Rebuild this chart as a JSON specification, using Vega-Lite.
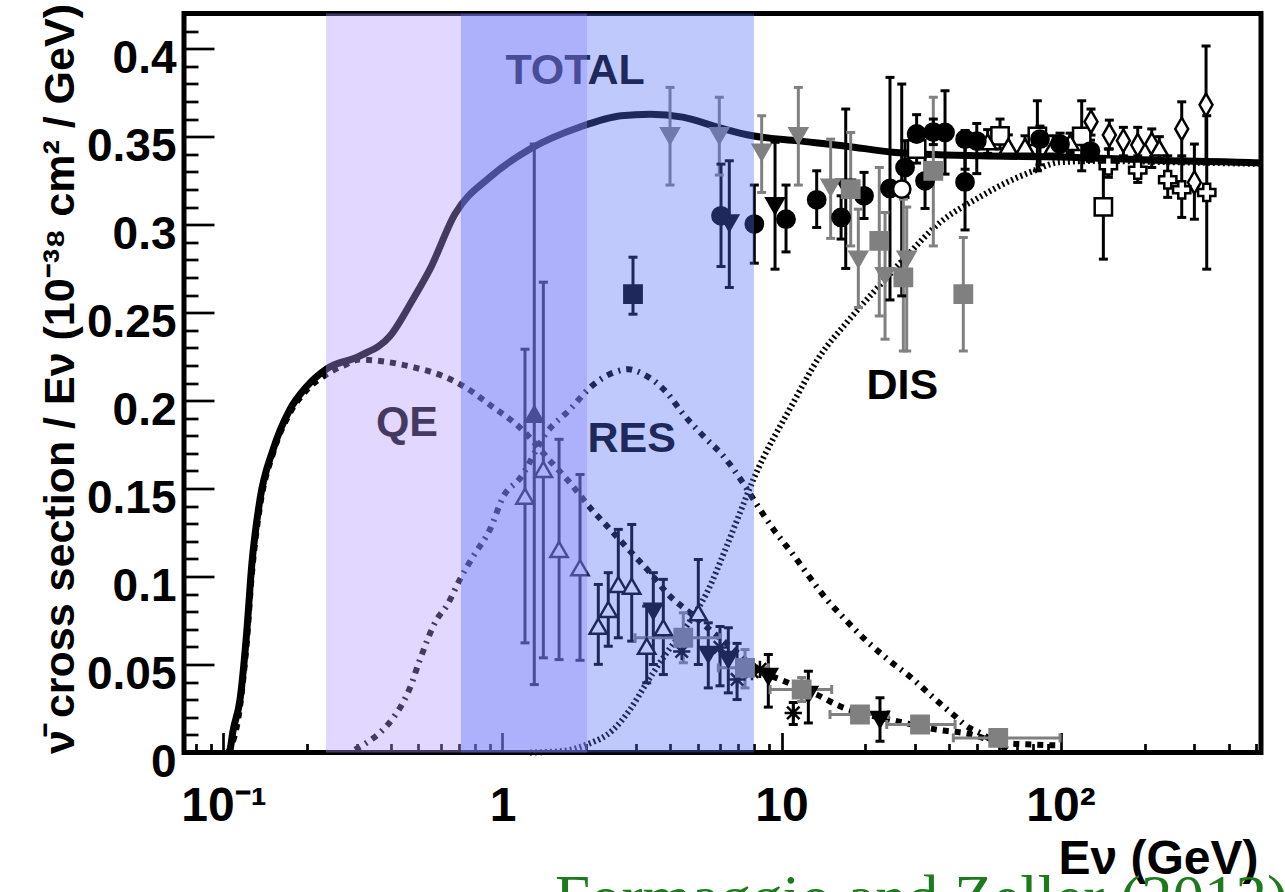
{
  "$schema": "https://vega.github.io/schema/vega-lite/v6.json",
  "width": 1077,
  "height": 739,
  "autosize": {"type": "none"},
  "padding": {"left": 184, "top": 13.5, "right": 24, "bottom": 139.5},
  "background": "white",
  "config": {"view": {"stroke": "black", "strokeWidth": 5}},
  "datasets": {
    "curves": [
      {"c":"TOTAL","E":0.1038,"s":0},{"c":"TOTAL","E":0.1055,"s":0.0016},{"c":"TOTAL","E":0.1081,"s":0.012},{"c":"TOTAL","E":0.1146,"s":0.03},{"c":"TOTAL","E":0.1211,"s":0.068},{"c":"TOTAL","E":0.1262,"s":0.106},{"c":"TOTAL","E":0.1352,"s":0.144},{"c":"TOTAL","E":0.1505,"s":0.172},{"c":"TOTAL","E":0.1731,"s":0.195},{"c":"TOTAL","E":0.1987,"s":0.208},{"c":"TOTAL","E":0.2344,"s":0.218},{"c":"TOTAL","E":0.3084,"s":0.2254},{"c":"TOTAL","E":0.3953,"s":0.2367},{"c":"TOTAL","E":0.4777,"s":0.2576},{"c":"TOTAL","E":0.5497,"s":0.2747},{"c":"TOTAL","E":0.6755,"s":0.306},{"c":"TOTAL","E":0.9019,"s":0.327},{"c":"TOTAL","E":1.255,"s":0.343},{"c":"TOTAL","E":1.896,"s":0.3555},{"c":"TOTAL","E":2.658,"s":0.3619},{"c":"TOTAL","E":3.385,"s":0.3628},{"c":"TOTAL","E":4.425,"s":0.3611},{"c":"TOTAL","E":6.02,"s":0.355},{"c":"TOTAL","E":7.87,"s":0.3505},{"c":"TOTAL","E":11.5,"s":0.3476},{"c":"TOTAL","E":17.1,"s":0.3446},{"c":"TOTAL","E":25,"s":0.3412},{"c":"TOTAL","E":51.4,"s":0.3391},{"c":"TOTAL","E":99.7,"s":0.3385},{"c":"TOTAL","E":228,"s":0.3365},{"c":"TOTAL","E":495,"s":0.3352},{"c":"TOTAL","E":523,"s":0.335},
      {"c":"QE","E":0.1045,"s":0},{"c":"QE","E":0.1146,"s":0.026},{"c":"QE","E":0.1211,"s":0.062},{"c":"QE","E":0.1262,"s":0.1},{"c":"QE","E":0.1352,"s":0.14},{"c":"QE","E":0.1505,"s":0.17},{"c":"QE","E":0.1731,"s":0.193},{"c":"QE","E":0.1987,"s":0.206},{"c":"QE","E":0.2344,"s":0.215},{"c":"QE","E":0.27,"s":0.22},{"c":"QE","E":0.308,"s":0.2233},{"c":"QE","E":0.364,"s":0.2225},{"c":"QE","E":0.4777,"s":0.219},{"c":"QE","E":0.632,"s":0.213},{"c":"QE","E":0.784,"s":0.2047},{"c":"QE","E":0.878,"s":0.1989},{"c":"QE","E":1.172,"s":0.1837},{"c":"QE","E":1.501,"s":0.1647},{"c":"QE","E":1.746,"s":0.1533},{"c":"QE","E":2.059,"s":0.1392},{"c":"QE","E":2.428,"s":0.1269},{"c":"QE","E":2.864,"s":0.1145},{"c":"QE","E":3.379,"s":0.1022},{"c":"QE","E":3.93,"s":0.0898},{"c":"QE","E":4.7,"s":0.0794},{"c":"QE","E":5.696,"s":0.0681},{"c":"QE","E":6.72,"s":0.0588},{"c":"QE","E":8.15,"s":0.0471},{"c":"QE","E":9.88,"s":0.0415},{"c":"QE","E":13.37,"s":0.0329},{"c":"QE","E":16.2,"s":0.0263},{"c":"QE","E":20.2,"s":0.0216},{"c":"QE","E":25.9,"s":0.0178},{"c":"QE","E":36,"s":0.013},{"c":"QE","E":46.1,"s":0.0108},{"c":"QE","E":62.2,"s":0.0055},{"c":"QE","E":79.7,"s":0.0045},{"c":"QE","E":99.6,"s":0.004},
      {"c":"RES","E":0.296,"s":0.0016},{"c":"RES","E":0.326,"s":0.0056},{"c":"RES","E":0.364,"s":0.0113},{"c":"RES","E":0.406,"s":0.0197},{"c":"RES","E":0.466,"s":0.0367},{"c":"RES","E":0.506,"s":0.0528},{"c":"RES","E":0.581,"s":0.0756},{"c":"RES","E":0.631,"s":0.0834},{"c":"RES","E":0.704,"s":0.0984},{"c":"RES","E":0.786,"s":0.1116},{"c":"RES","E":0.902,"s":0.1268},{"c":"RES","E":1.007,"s":0.1455},{"c":"RES","E":1.155,"s":0.1558},{"c":"RES","E":1.44,"s":0.1819},{"c":"RES","E":1.746,"s":0.195},{"c":"RES","E":2.059,"s":0.2074},{"c":"RES","E":2.495,"s":0.2159},{"c":"RES","E":2.824,"s":0.2178},{"c":"RES","E":3.197,"s":0.215},{"c":"RES","E":3.877,"s":0.2046},{"c":"RES","E":4.446,"s":0.1923},{"c":"RES","E":5.245,"s":0.1799},{"c":"RES","E":6.186,"s":0.1685},{"c":"RES","E":7.2,"s":0.1543},{"c":"RES","E":8.15,"s":0.141},{"c":"RES","E":9.35,"s":0.1269},{"c":"RES","E":10.88,"s":0.1135},{"c":"RES","E":14.52,"s":0.087},{"c":"RES","E":17.13,"s":0.0747},{"c":"RES","E":20.2,"s":0.0633},{"c":"RES","E":24.5,"s":0.0519},{"c":"RES","E":29.7,"s":0.0415},{"c":"RES","E":35,"s":0.0312},{"c":"RES","E":41.9,"s":0.0206},{"c":"RES","E":46.1,"s":0.0149},{"c":"RES","E":51.5,"s":0.0111},{"c":"RES","E":60.7,"s":0.004},{"c":"RES","E":65.9,"s":0.001},
      {"c":"DIS","E":1.255,"s":0},{"c":"DIS","E":1.607,"s":0.0007},{"c":"DIS","E":2.004,"s":0.0045},{"c":"DIS","E":2.495,"s":0.013},{"c":"DIS","E":2.864,"s":0.0244},{"c":"DIS","E":3.287,"s":0.0396},{"c":"DIS","E":3.877,"s":0.0567},{"c":"DIS","E":4.573,"s":0.0719},{"c":"DIS","E":5.395,"s":0.0907},{"c":"DIS","E":6.363,"s":0.1173},{"c":"DIS","E":7.1,"s":0.1363},{"c":"DIS","E":7.93,"s":0.1552},{"c":"DIS","E":11.02,"s":0.1988},{"c":"DIS","E":13.74,"s":0.2254},{"c":"DIS","E":17.13,"s":0.2444},{"c":"DIS","E":21.3,"s":0.2614},{"c":"DIS","E":28.1,"s":0.2822},{"c":"DIS","E":37,"s":0.3013},{"c":"DIS","E":50.1,"s":0.3147},{"c":"DIS","E":64.1,"s":0.324},{"c":"DIS","E":79.9,"s":0.3305},{"c":"DIS","E":99.6,"s":0.3355},{"c":"DIS","E":138.6,"s":0.3362},{"c":"DIS","E":250,"s":0.3355},{"c":"DIS","E":523,"s":0.3345}
    ],
    "pts": [
      {"g":"A","E":1.204,"s":0.1457,"lo":0.0623,"hi":0.2292},
      {"g":"A","E":1.401,"s":0.1609,"lo":0.0538,"hi":0.2673},
      {"g":"A","E":1.595,"s":0.1154,"lo":0.0528,"hi":0.178},
      {"g":"A","E":1.896,"s":0.105,"lo":0.0524,"hi":0.158},
      {"g":"A","E":2.205,"s":0.0718,"lo":0.0501,"hi":0.0955},
      {"g":"A","E":2.394,"s":0.0813,"lo":0.0604,"hi":0.1022},
      {"g":"A","E":2.601,"s":0.0955,"lo":0.0652,"hi":0.1268},
      {"g":"A","E":2.905,"s":0.0945,"lo":0.0633,"hi":0.1296},
      {"g":"A","E":3.287,"s":0.0604,"lo":0.0396,"hi":0.0832},
      {"g":"A","E":3.771,"s":0.0709,"lo":0.0443,"hi":0.0984},
      {"g":"A","E":5.033,"s":0.0794,"lo":0.05,"hi":0.1097},
      {"g":"Au","E":1.3,"s":0.1922,"lo":0.0386,"hi":0.3458},
      {"g":"B","E":3.472,"s":0.0803,"lo":0.05,"hi":0.1022},
      {"g":"B","E":5.465,"s":0.0557,"lo":0.0367,"hi":0.0737},
      {"g":"B","E":6.447,"s":0.0528,"lo":0.0339,"hi":0.0709},
      {"g":"B","E":8.968,"s":0.0432,"lo":0.0258,"hi":0.0557},
      {"g":"B","E":12.48,"s":0.0329,"lo":0.0168,"hi":0.0462},
      {"g":"B","E":22.54,"s":0.0187,"lo":0.0064,"hi":0.0311},
      {"g":"B","E":6.5,"s":0.3009,"lo":0.2643,"hi":0.3363},
      {"g":"B","E":9.48,"s":0.3107,"lo":0.2747,"hi":0.3468},
      {"g":"B","E":16.99,"s":0.3212,"lo":0.2751,"hi":0.3657},
      {"g":"C","E":4.388,"s":0.0574},
      {"g":"C","E":6.02,"s":0.0597,"lo":0.0379,"hi":0.0716},
      {"g":"C","E":6.93,"s":0.0415,"lo":0.0301,"hi":0.062},
      {"g":"C","E":7.84,"s":0.046},
      {"g":"C","E":8.37,"s":0.0472},
      {"g":"C","E":11.02,"s":0.0225,"lo":0.0159,"hi":0.0284},
      {"g":"D","E":4.446,"s":0.0652,"lo":0.051,"hi":0.0794,"elo":2.985,"ehi":6.02},
      {"g":"D","E":7.4,"s":0.0481,"lo":0.0367,"hi":0.0585,"elo":5.936,"ehi":8.968},
      {"g":"D","E":11.81,"s":0.0358,"lo":0.029,"hi":0.0426,"elo":9.1,"ehi":15.13},
      {"g":"D","E":19.11,"s":0.0216,"lo":0.0176,"hi":0.0255,"elo":14.92,"ehi":24.14},
      {"g":"D","E":31.37,"s":0.0159,"lo":0.013,"hi":0.0187,"elo":23.83,"ehi":41.88},
      {"g":"D","E":59.8,"s":0.0083,"lo":0.0051,"hi":0.0119,"elo":41.29,"ehi":99.6},
      {"g":"E","E":3.985,"s":0.3505,"lo":0.3225,"hi":0.378},
      {"g":"E","E":5.985,"s":0.3505,"lo":0.3282,"hi":0.3724},
      {"g":"E","E":8.49,"s":0.3411,"lo":0.3183,"hi":0.3619},
      {"g":"E","E":11.49,"s":0.3505,"lo":0.3225,"hi":0.378},
      {"g":"E","E":15,"s":0.3212,"lo":0.2922,"hi":0.3486},
      {"g":"E","E":18.85,"s":0.2804,"lo":0.2529,"hi":0.3088},
      {"g":"E","E":23.5,"s":0.2709,"lo":0.2349,"hi":0.3069},
      {"g":"E","E":28.1,"s":0.2804,"lo":0.2282,"hi":0.31},
      {"g":"F","E":6.07,"s":0.305,"lo":0.2762,"hi":0.3344},
      {"g":"F","E":7.99,"s":0.3003,"lo":0.2781,"hi":0.3225},
      {"g":"F","E":10.38,"s":0.3031,"lo":0.2845,"hi":0.3225},
      {"g":"F","E":13.37,"s":0.3141,"lo":0.2984,"hi":0.3306},
      {"g":"F","E":16.35,"s":0.3041,"lo":0.2918,"hi":0.3164},
      {"g":"F","E":19.76,"s":0.3164,"lo":0.3035,"hi":0.3297},
      {"g":"F","E":24.48,"s":0.3206,"lo":0.2572,"hi":0.3837},
      {"g":"F","E":27.72,"s":0.3325,"lo":0.3155,"hi":0.3477},
      {"g":"F","E":32.69,"s":0.3249,"lo":0.3092,"hi":0.3391},
      {"g":"F","E":38.55,"s":0.3524,"lo":0.3287,"hi":0.3761},
      {"g":"F","E":45.47,"s":0.3243,"lo":0.297,"hi":0.3505},
      {"g":"H","E":26.97,"s":0.3202,"lo":0.2595,"hi":0.3799},
      {"g":"I","E":17.7,"s":0.3202,"lo":0.2879,"hi":0.3524},
      {"g":"I","E":22.41,"s":0.2908,"lo":0.2481,"hi":0.3325},
      {"g":"I","E":27.33,"s":0.27,"lo":0.2282,"hi":0.3145},
      {"g":"I","E":35,"s":0.3306,"lo":0.2879,"hi":0.3724},
      {"g":"I","E":44.83,"s":0.2605,"lo":0.2282,"hi":0.2927},
      {"g":"J","E":2.936,"s":0.2605,"lo":0.2491,"hi":0.2815},
      {"g":"K","E":30.5,"s":0.343,"lo":0.335,"hi":0.351},
      {"g":"K","E":60.7,"s":0.3505,"lo":0.343,"hi":0.36},
      {"g":"K","E":82.6,"s":0.3502,"lo":0.3306,"hi":0.3704},
      {"g":"K","E":119.1,"s":0.3502,"lo":0.3306,"hi":0.3704},
      {"g":"K","E":142.4,"s":0.3101,"lo":0.2804,"hi":0.3373},
      {"g":"L","E":128.6,"s":0.3585,"lo":0.3509,"hi":0.3657},
      {"g":"L","E":149.6,"s":0.3509,"lo":0.343,"hi":0.3594},
      {"g":"L","E":168,"s":0.3477,"lo":0.3391,"hi":0.3553},
      {"g":"L","E":189.1,"s":0.3452,"lo":0.3373,"hi":0.3553},
      {"g":"L","E":212.3,"s":0.3458,"lo":0.3325,"hi":0.3544},
      {"g":"L","E":271.9,"s":0.3544,"lo":0.3373,"hi":0.3698},
      {"g":"L","E":301.8,"s":0.324,"lo":0.3031,"hi":0.3458},
      {"g":"L","E":332.3,"s":0.3681,"lo":0.3361,"hi":0.4015},
      {"g":"M","E":148.4,"s":0.3334,"lo":0.3269,"hi":0.343},
      {"g":"M","E":189.1,"s":0.331,"lo":0.324,"hi":0.3391},
      {"g":"M","E":242.2,"s":0.3255,"lo":0.3155,"hi":0.3391},
      {"g":"M","E":271.9,"s":0.3198,"lo":0.3041,"hi":0.3391},
      {"g":"M","E":334.2,"s":0.3183,"lo":0.2747,"hi":0.3619},
      {"g":"N","E":54.8,"s":0.3471,"lo":0.3405,"hi":0.354},
      {"g":"N","E":65,"s":0.3445,"lo":0.338,"hi":0.351},
      {"g":"N","E":74.6,"s":0.3445,"lo":0.3385,"hi":0.3505},
      {"g":"N","E":94.2,"s":0.3445,"lo":0.3385,"hi":0.3505},
      {"g":"N","E":108.2,"s":0.3467,"lo":0.341,"hi":0.352},
      {"g":"N","E":226,"s":0.3435,"lo":0.337,"hi":0.35},
      {"g":"S","E":30.5,"s":0.3515,"lo":0.3395,"hi":0.3625},
      {"g":"S","E":35,"s":0.3526,"lo":0.3455,"hi":0.36},
      {"g":"S","E":45.5,"s":0.3486,"lo":0.3315,"hi":0.3535},
      {"g":"S","E":50.1,"s":0.3475,"lo":0.329,"hi":0.3575},
      {"g":"S","E":84.4,"s":0.3486,"lo":0.334,"hi":0.356},
      {"g":"S","E":99.6,"s":0.3458,"lo":0.3395,"hi":0.352},
      {"g":"S","E":128,"s":0.3418,"lo":0.336,"hi":0.348}
    ],
    "labels": [
      {"t":"TOTAL","E":1.82,"s":0.38},
      {"t":"QE","E":0.4546,"s":0.1797},
      {"t":"RES","E":2.905,"s":0.1706},
      {"t":"DIS","E":27.1,"s":0.2007}
    ],
    "credit": [
      {"t":"Formaggio and Zeller (2012)","E":1.542,"s":-0.0945}
    ],
    "bands": [
      {"b":"QE","E0":0.233,"E1":2.009},
      {"b":"RES","E0":0.71,"E1":7.97}
    ]
  },
  "layer": [
    {
      "data": {"name": "curves"},
      "transform": [{"filter": "datum.c == 'TOTAL'"}],
      "mark": {"type": "line", "stroke": "black", "strokeWidth": 7, "interpolate": "monotone"},
      "encoding": {
        "x": {"field": "E", "type": "quantitative", "scale": {"type": "log", "domain": [0.0722, 523], "nice": false},
          "axis": {
            "values": [0.08,0.09,0.1,0.2,0.3,0.4,0.5,0.6,0.7,0.8,0.9,1,2,3,4,5,6,7,8,9,10,20,30,40,50,60,70,80,90,100,200,300,400,500],
            "tickCount": 200,
            "labelExpr": "datum.value == 0.1 ? '10⁻¹' : datum.value == 1 ? '1' : datum.value == 10 ? '10' : datum.value == 100 ? '10²' : ''",
            "tickSize": {"condition": {"test": "datum.value == 0.1 || datum.value == 1 || datum.value == 10 || datum.value == 100", "value": -20}, "value": -9},
            "tickWidth": 2.7, "tickColor": "black", "domain": false, "grid": false,
            "labelFont": "Liberation Sans", "labelFontWeight": "bold", "labelFontSize": 48, "labelColor": "black",
            "labelPadding": 50, "labelOverlap": false, "labelFlush": false, "labelBound": false,
            "title": "Eν (GeV)", "titleFont": "Liberation Sans", "titleFontWeight": "bold", "titleFontSize": 48, "titleColor": "black",
            "titleAlign": "right", "titleAnchor": null, "titleX": 1074, "titleY": 121, "titleBaseline": "alphabetic"
          }
        },
        "y": {"field": "s", "type": "quantitative", "scale": {"domain": [0, 0.42], "nice": false, "zero": false},
          "axis": {
            "values": [0,0.01,0.02,0.03,0.04,0.05,0.06,0.07,0.08,0.09,0.1,0.11,0.12,0.13,0.14,0.15,0.16,0.17,0.18,0.19,0.2,0.21,0.22,0.23,0.24,0.25,0.26,0.27,0.28,0.29,0.3,0.31,0.32,0.33,0.34,0.35,0.36,0.37,0.38,0.39,0.4,0.41,0.42],
            "tickCount": 200,
            "labelExpr": "abs(datum.value*20 - round(datum.value*20)) < 0.000001 ? '' + datum.value : ''",
            "tickSize": {"condition": {"test": "abs(datum.value*20 - round(datum.value*20)) < 0.000001", "value": -30}, "value": -14},
            "tickWidth": 2.7, "tickColor": "black", "domain": false, "grid": false,
            "labelFont": "Liberation Sans", "labelFontWeight": "bold", "labelFontSize": 46, "labelColor": "black",
            "labelPadding": 38, "labelBaseline": "alphabetic", "labelOffset": 24, "labelOverlap": false, "labelFlush": false, "labelBound": false,
            "title": "ν̄ cross section / Eν (10⁻³⁸ cm² / GeV)", "titleFont": "Liberation Sans", "titleFontWeight": "bold", "titleFontSize": 43, "titleColor": "black",
            "titleAngle": -90, "titleAlign": "center", "titleAnchor": null, "titleX": -111, "titleY": 365, "titleBaseline": "alphabetic"
          }
        }
      }
    },
    {
      "data": {"name": "curves"},
      "transform": [{"filter": "datum.c == 'QE'"}],
      "mark": {"type": "line", "stroke": "black", "strokeWidth": 6, "strokeDash": [6, 6], "interpolate": "monotone"},
      "encoding": {
        "x": {"field": "E", "type": "quantitative", "scale": {"type": "log", "domain": [0.0722, 523], "nice": false}},
        "y": {"field": "s", "type": "quantitative", "scale": {"domain": [0, 0.42], "nice": false, "zero": false}}
      }
    },
    {
      "data": {"name": "curves"},
      "transform": [{"filter": "datum.c == 'RES'"}],
      "mark": {"type": "line", "stroke": "black", "strokeWidth": 6, "strokeDash": [6, 6, 2, 6], "interpolate": "monotone"},
      "encoding": {
        "x": {"field": "E", "type": "quantitative", "scale": {"type": "log", "domain": [0.0722, 523], "nice": false}},
        "y": {"field": "s", "type": "quantitative", "scale": {"domain": [0, 0.42], "nice": false, "zero": false}}
      }
    },
    {
      "data": {"name": "curves"},
      "transform": [{"filter": "datum.c == 'DIS'"}],
      "mark": {"type": "line", "stroke": "black", "strokeWidth": 6, "strokeDash": [2, 3], "interpolate": "monotone"},
      "encoding": {
        "x": {"field": "E", "type": "quantitative", "scale": {"type": "log", "domain": [0.0722, 523], "nice": false}},
        "y": {"field": "s", "type": "quantitative", "scale": {"domain": [0, 0.42], "nice": false, "zero": false}}
      }
    },
    {
      "data": {"name": "pts"},
      "transform": [{"filter": "datum.lo != null"}],
      "mark": {"type": "rule", "strokeWidth": 3},
      "encoding": {
        "x": {"field": "E", "type": "quantitative", "scale": {"type": "log", "domain": [0.0722, 523], "nice": false}},
        "y": {"field": "lo", "type": "quantitative", "scale": {"domain": [0, 0.42], "nice": false, "zero": false}},
        "y2": {"field": "hi"},
        "color": {"field": "g", "type": "nominal", "legend": null,
          "scale": {"domain": ["A","Au","B","C","D","E","F","H","I","J","K","L","M","N","S"],
                    "range": ["black","black","black","black","#808080","#808080","black","black","#808080","black","black","black","black","black","black"]}}
      }
    },
    {
      "data": {"name": "pts"},
      "transform": [{"filter": "datum.lo != null"}, {"fold": ["lo", "hi"], "as": ["k", "v"]}],
      "mark": {"type": "tick", "orient": "horizontal", "size": 9, "thickness": 3, "opacity": 1},
      "encoding": {
        "x": {"field": "E", "type": "quantitative", "scale": {"type": "log", "domain": [0.0722, 523], "nice": false}},
        "y": {"field": "v", "type": "quantitative", "scale": {"domain": [0, 0.42], "nice": false, "zero": false}},
        "color": {"field": "g", "type": "nominal", "legend": null,
          "scale": {"domain": ["A","Au","B","C","D","E","F","H","I","J","K","L","M","N","S"],
                    "range": ["black","black","black","black","#808080","#808080","black","black","#808080","black","black","black","black","black","black"]}}
      }
    },
    {
      "data": {"name": "pts"},
      "transform": [{"filter": "datum.elo != null"}],
      "mark": {"type": "rule", "strokeWidth": 3, "stroke": "#808080"},
      "encoding": {
        "x": {"field": "elo", "type": "quantitative", "scale": {"type": "log", "domain": [0.0722, 523], "nice": false}},
        "x2": {"field": "ehi"},
        "y": {"field": "s", "type": "quantitative", "scale": {"domain": [0, 0.42], "nice": false, "zero": false}}
      }
    },
    {
      "data": {"name": "pts"},
      "transform": [{"filter": "datum.elo != null"}, {"fold": ["elo", "ehi"], "as": ["k", "v"]}],
      "mark": {"type": "tick", "orient": "vertical", "size": 9, "thickness": 3, "opacity": 1, "color": "#808080"},
      "encoding": {
        "x": {"field": "v", "type": "quantitative", "scale": {"type": "log", "domain": [0.0722, 523], "nice": false}},
        "y": {"field": "s", "type": "quantitative", "scale": {"domain": [0, 0.42], "nice": false, "zero": false}}
      }
    },
    {
      "data": {"name": "pts"},
      "mark": {"type": "point", "strokeWidth": 2.5, "opacity": 1},
      "encoding": {
        "x": {"field": "E", "type": "quantitative", "scale": {"type": "log", "domain": [0.0722, 523], "nice": false}},
        "y": {"field": "s", "type": "quantitative", "scale": {"domain": [0, 0.42], "nice": false, "zero": false}},
        "shape": {"field": "g", "type": "nominal", "legend": null,
          "scale": {"domain": ["A","Au","B","C","D","E","F","H","I","J","K","L","M","N","S"],
                    "range": ["triangle-up","triangle-up","triangle-down","M-1,0L1,0M0,-1L0,1M-0.72,-0.72L0.72,0.72M-0.72,0.72L0.72,-0.72","square","triangle-down","circle","circle","square","square","square","M0,-1.3L0.75,0L0,1.3L-0.75,0Z","cross","triangle-up","circle"]}},
        "fill": {"field": "g", "type": "nominal", "legend": null,
          "scale": {"domain": ["A","Au","B","C","D","E","F","H","I","J","K","L","M","N","S"],
                    "range": ["white","black","black","black","#808080","#808080","black","white","#808080","black","white","white","white","white","black"]}},
        "stroke": {"field": "g", "type": "nominal", "legend": null,
          "scale": {"domain": ["A","Au","B","C","D","E","F","H","I","J","K","L","M","N","S"],
                    "range": ["black","black","black","black","#808080","#808080","black","black","#808080","black","black","black","black","black","black"]}},
        "size": {"field": "g", "type": "nominal", "legend": null,
          "scale": {"domain": ["A","Au","B","C","D","E","F","H","I","J","K","L","M","N","S"],
                    "range": [300,300,280,220,230,280,230,230,230,200,230,200,300,110,100]}}
      }
    },
    {
      "data": {"name": "labels"},
      "mark": {"type": "text", "font": "Liberation Sans", "fontWeight": "bold", "fontSize": 43, "fill": "black", "align": "center", "baseline": "alphabetic"},
      "encoding": {
        "x": {"field": "E", "type": "quantitative", "scale": {"type": "log", "domain": [0.0722, 523], "nice": false}},
        "y": {"field": "s", "type": "quantitative", "scale": {"domain": [0, 0.42], "nice": false, "zero": false}},
        "text": {"field": "t"}
      }
    },
    {
      "data": {"name": "credit"},
      "mark": {"type": "text", "font": "Liberation Serif", "fontSize": 63, "fill": "#1d7a1d", "align": "left", "baseline": "alphabetic", "clip": false},
      "encoding": {
        "x": {"field": "E", "type": "quantitative", "scale": {"type": "log", "domain": [0.0722, 523], "nice": false}},
        "y": {"field": "s", "type": "quantitative", "scale": {"domain": [0, 0.42], "nice": false, "zero": false}},
        "text": {"field": "t"}
      }
    },
    {
      "data": {"name": "bands"},
      "transform": [{"filter": "datum.b == 'QE'"}],
      "mark": {"type": "rect", "opacity": 0.38, "fill": "#b399ff"},
      "encoding": {
        "x": {"field": "E0", "type": "quantitative", "scale": {"type": "log", "domain": [0.0722, 523], "nice": false}},
        "x2": {"field": "E1"}
      }
    },
    {
      "data": {"name": "bands"},
      "transform": [{"filter": "datum.b == 'RES'"}],
      "mark": {"type": "rect", "opacity": 0.37, "fill": "#516cf3"},
      "encoding": {
        "x": {"field": "E0", "type": "quantitative", "scale": {"type": "log", "domain": [0.0722, 523], "nice": false}},
        "x2": {"field": "E1"}
      }
    }
  ]
}
